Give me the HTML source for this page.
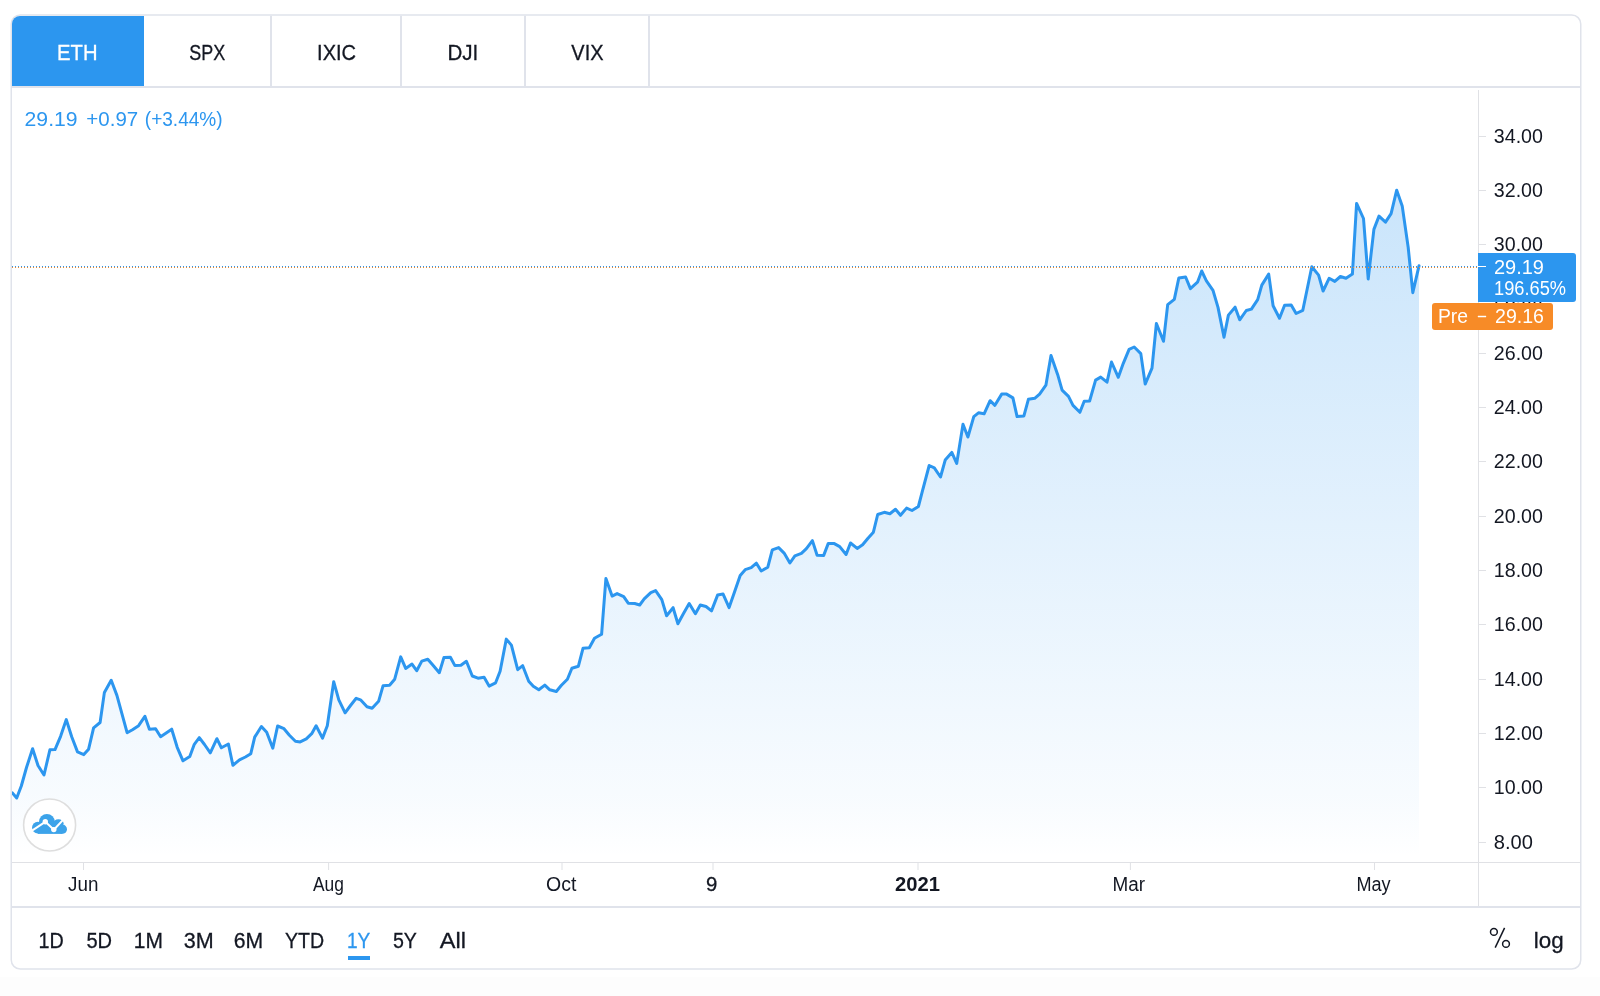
<!DOCTYPE html>
<html><head><meta charset="utf-8"><style>
html,body{margin:0;padding:0;background:#fff;}
svg{display:block;font-family:"Liberation Sans", sans-serif;will-change:transform;}
</style></head><body>
<svg width="1600" height="996" viewBox="0 0 1600 996">
<rect x="0" y="0" width="1600" height="996" fill="#ffffff"/>
<rect x="0" y="977" width="1600" height="19" fill="#fdfdfd"/>
<rect x="11.25" y="15.0" width="1569.5" height="954.0" rx="9" ry="9" fill="#ffffff" stroke="#e0e3eb" stroke-width="1.5"/>
<path d="M12 86 V24 A8 8 0 0 1 20 16 H144 V86 Z" fill="#2c96ef"/>
<rect x="270" y="15.67" width="2" height="70.33" fill="#e0e3eb"/>
<rect x="400" y="15.67" width="2" height="70.33" fill="#e0e3eb"/>
<rect x="524" y="15.67" width="2" height="70.33" fill="#e0e3eb"/>
<rect x="648" y="15.67" width="2" height="70.33" fill="#e0e3eb"/>
<rect x="12" y="86" width="1568.67" height="2" fill="#e0e3eb"/>
<defs><linearGradient id="g" x1="0" y1="88" x2="0" y2="857" gradientUnits="userSpaceOnUse"><stop offset="0" stop-color="#2c97f0" stop-opacity="0.29"/><stop offset="0.926" stop-color="#2c97f0" stop-opacity="0.035"/><stop offset="1" stop-color="#2c97f0" stop-opacity="0.0"/></linearGradient><clipPath id="cp"><rect x="12" y="88" width="1466" height="774"/></clipPath></defs>
<g clip-path="url(#cp)"><polygon points="12.2,792.8 16.7,798.0 21.3,786.0 26.5,767.5 32.6,748.8 38.0,765.5 44.0,775.0 49.9,749.8 55.0,749.6 60.6,736.3 66.3,719.6 71.7,736.8 77.5,751.9 83.8,754.6 88.6,749.2 93.6,727.8 100.1,722.5 104.4,692.4 111.2,680.3 116.9,695.4 127.1,732.7 132.5,729.7 138.6,725.7 144.9,716.3 149.4,729.2 155.6,728.7 160.6,736.7 166.2,732.9 171.7,729.2 177.2,747.3 183.0,760.8 189.8,756.5 194.3,744.3 199.3,737.7 204.5,744.5 210.3,752.8 216.9,738.7 221.4,747.8 228.4,744.0 232.9,765.3 239.5,759.8 245.4,757.0 250.8,753.7 254.7,737.1 261.4,726.5 266.7,732.3 272.8,748.2 277.6,726.0 284.0,728.7 289.4,735.3 295.4,741.3 300.2,741.9 306.3,738.9 311.7,733.7 316.1,725.7 322.5,738.1 327.3,725.7 333.7,681.7 338.8,699.8 345.1,712.8 350.5,705.5 356.2,698.3 360.5,699.8 367.0,706.8 372.1,708.3 378.6,701.3 383.1,685.7 389.6,685.2 394.7,679.2 400.7,656.9 405.7,668.4 412.0,664.1 416.7,670.7 421.8,661.1 427.8,659.3 432.8,665.1 439.3,672.7 443.9,657.6 450.4,657.3 454.9,665.6 460.9,665.3 466.4,661.3 472.3,676.0 478.0,678.2 484.1,677.2 489.1,686.1 495.6,682.8 500.1,671.2 506.3,639.1 511.4,645.1 517.7,669.7 522.7,665.7 528.7,681.2 533.3,686.3 538.8,689.8 544.8,685.1 549.8,689.8 556.3,691.5 561.4,685.3 567.4,679.2 571.9,668.2 578.4,666.2 583.0,648.3 589.3,647.8 594.5,638.3 601.6,634.3 605.9,578.6 612.1,596.1 617.1,593.6 623.7,596.6 628.2,603.2 634.7,603.5 639.7,605.0 644.2,598.9 650.8,592.6 655.6,590.6 661.8,599.6 666.6,615.7 673.1,607.7 677.9,623.7 683.5,613.6 689.2,603.5 695.4,613.7 700.3,605.0 706.0,606.5 711.5,610.9 717.6,595.1 723.1,594.1 729.1,607.6 734.6,591.8 740.2,575.4 745.2,569.7 751.2,567.7 756.4,563.2 761.2,571.0 767.8,567.2 772.3,549.9 778.6,547.6 784.1,553.1 789.9,563.0 794.9,555.8 801.4,553.3 806.4,548.6 812.4,540.6 817.1,555.2 823.7,555.4 828.3,543.4 834.3,543.6 839.7,546.6 846.1,554.5 850.5,543.0 857.2,548.4 862.6,544.8 868.0,538.2 873.4,532.2 877.7,514.5 884.3,512.3 889.9,513.7 895.5,509.3 900.5,515.3 906.6,508.1 912.0,510.5 918.4,506.5 922.2,491.8 929.2,465.5 934.3,467.9 940.5,477.0 945.2,460.1 951.8,452.4 956.7,463.4 963.0,424.3 967.9,437.0 973.8,416.6 978.5,412.8 984.1,413.8 990.1,400.7 994.9,405.3 1001.7,394.1 1006.6,394.1 1012.9,397.9 1017.1,416.6 1023.9,415.9 1028.4,399.3 1034.7,398.3 1039.6,394.1 1045.9,385.2 1051.0,355.4 1057.7,374.7 1062.1,390.1 1068.5,396.4 1073.0,405.4 1079.9,412.3 1084.2,401.2 1089.6,401.0 1095.6,380.1 1100.7,377.1 1107.0,382.2 1111.5,362.0 1118.3,377.3 1123.3,363.3 1129.1,349.4 1134.2,347.0 1140.8,353.6 1145.2,384.1 1152.0,368.1 1156.4,323.5 1163.5,341.3 1167.7,304.6 1174.3,299.4 1178.8,278.1 1185.6,277.0 1190.4,288.6 1197.5,282.2 1201.7,271.0 1206.4,280.9 1213.0,290.3 1218.0,307.4 1224.0,337.2 1228.4,315.1 1235.1,307.2 1239.7,319.8 1246.3,310.5 1251.4,309.1 1257.7,299.7 1261.8,285.1 1268.7,274.1 1273.1,305.7 1279.5,318.3 1284.6,305.3 1291.2,305.0 1296.1,313.5 1302.8,310.3 1307.3,288.5 1311.8,266.7 1318.6,275.1 1323.1,291.0 1329.1,278.3 1334.8,281.4 1340.4,276.5 1346.0,278.3 1352.4,274.1 1356.6,203.4 1363.5,218.5 1368.2,279.0 1373.9,229.4 1379.0,216.1 1385.5,222.2 1391.1,213.7 1396.7,190.2 1402.2,205.9 1408.2,247.5 1412.8,292.7 1419.0,265.8 1419.0,857.0 12.0,857.0" fill="url(#g)"/>
<polyline points="12.2,792.8 16.7,798.0 21.3,786.0 26.5,767.5 32.6,748.8 38.0,765.5 44.0,775.0 49.9,749.8 55.0,749.6 60.6,736.3 66.3,719.6 71.7,736.8 77.5,751.9 83.8,754.6 88.6,749.2 93.6,727.8 100.1,722.5 104.4,692.4 111.2,680.3 116.9,695.4 127.1,732.7 132.5,729.7 138.6,725.7 144.9,716.3 149.4,729.2 155.6,728.7 160.6,736.7 166.2,732.9 171.7,729.2 177.2,747.3 183.0,760.8 189.8,756.5 194.3,744.3 199.3,737.7 204.5,744.5 210.3,752.8 216.9,738.7 221.4,747.8 228.4,744.0 232.9,765.3 239.5,759.8 245.4,757.0 250.8,753.7 254.7,737.1 261.4,726.5 266.7,732.3 272.8,748.2 277.6,726.0 284.0,728.7 289.4,735.3 295.4,741.3 300.2,741.9 306.3,738.9 311.7,733.7 316.1,725.7 322.5,738.1 327.3,725.7 333.7,681.7 338.8,699.8 345.1,712.8 350.5,705.5 356.2,698.3 360.5,699.8 367.0,706.8 372.1,708.3 378.6,701.3 383.1,685.7 389.6,685.2 394.7,679.2 400.7,656.9 405.7,668.4 412.0,664.1 416.7,670.7 421.8,661.1 427.8,659.3 432.8,665.1 439.3,672.7 443.9,657.6 450.4,657.3 454.9,665.6 460.9,665.3 466.4,661.3 472.3,676.0 478.0,678.2 484.1,677.2 489.1,686.1 495.6,682.8 500.1,671.2 506.3,639.1 511.4,645.1 517.7,669.7 522.7,665.7 528.7,681.2 533.3,686.3 538.8,689.8 544.8,685.1 549.8,689.8 556.3,691.5 561.4,685.3 567.4,679.2 571.9,668.2 578.4,666.2 583.0,648.3 589.3,647.8 594.5,638.3 601.6,634.3 605.9,578.6 612.1,596.1 617.1,593.6 623.7,596.6 628.2,603.2 634.7,603.5 639.7,605.0 644.2,598.9 650.8,592.6 655.6,590.6 661.8,599.6 666.6,615.7 673.1,607.7 677.9,623.7 683.5,613.6 689.2,603.5 695.4,613.7 700.3,605.0 706.0,606.5 711.5,610.9 717.6,595.1 723.1,594.1 729.1,607.6 734.6,591.8 740.2,575.4 745.2,569.7 751.2,567.7 756.4,563.2 761.2,571.0 767.8,567.2 772.3,549.9 778.6,547.6 784.1,553.1 789.9,563.0 794.9,555.8 801.4,553.3 806.4,548.6 812.4,540.6 817.1,555.2 823.7,555.4 828.3,543.4 834.3,543.6 839.7,546.6 846.1,554.5 850.5,543.0 857.2,548.4 862.6,544.8 868.0,538.2 873.4,532.2 877.7,514.5 884.3,512.3 889.9,513.7 895.5,509.3 900.5,515.3 906.6,508.1 912.0,510.5 918.4,506.5 922.2,491.8 929.2,465.5 934.3,467.9 940.5,477.0 945.2,460.1 951.8,452.4 956.7,463.4 963.0,424.3 967.9,437.0 973.8,416.6 978.5,412.8 984.1,413.8 990.1,400.7 994.9,405.3 1001.7,394.1 1006.6,394.1 1012.9,397.9 1017.1,416.6 1023.9,415.9 1028.4,399.3 1034.7,398.3 1039.6,394.1 1045.9,385.2 1051.0,355.4 1057.7,374.7 1062.1,390.1 1068.5,396.4 1073.0,405.4 1079.9,412.3 1084.2,401.2 1089.6,401.0 1095.6,380.1 1100.7,377.1 1107.0,382.2 1111.5,362.0 1118.3,377.3 1123.3,363.3 1129.1,349.4 1134.2,347.0 1140.8,353.6 1145.2,384.1 1152.0,368.1 1156.4,323.5 1163.5,341.3 1167.7,304.6 1174.3,299.4 1178.8,278.1 1185.6,277.0 1190.4,288.6 1197.5,282.2 1201.7,271.0 1206.4,280.9 1213.0,290.3 1218.0,307.4 1224.0,337.2 1228.4,315.1 1235.1,307.2 1239.7,319.8 1246.3,310.5 1251.4,309.1 1257.7,299.7 1261.8,285.1 1268.7,274.1 1273.1,305.7 1279.5,318.3 1284.6,305.3 1291.2,305.0 1296.1,313.5 1302.8,310.3 1307.3,288.5 1311.8,266.7 1318.6,275.1 1323.1,291.0 1329.1,278.3 1334.8,281.4 1340.4,276.5 1346.0,278.3 1352.4,274.1 1356.6,203.4 1363.5,218.5 1368.2,279.0 1373.9,229.4 1379.0,216.1 1385.5,222.2 1391.1,213.7 1396.7,190.2 1402.2,205.9 1408.2,247.5 1412.8,292.7 1419.0,265.8" fill="none" stroke="#2c96ef" stroke-width="3" stroke-linejoin="round" stroke-linecap="round"/></g>
<line x1="12" y1="266.5" x2="1478" y2="266.5" stroke="#2c96ef" stroke-width="1" stroke-dasharray="1 2"/>
<line x1="12" y1="267.5" x2="1478" y2="267.5" stroke="#f78b27" stroke-width="1" stroke-dasharray="1 2"/>
<rect x="1478" y="90" width="1" height="816" fill="#e0e1e5"/>
<rect x="12" y="862" width="1568.67" height="1" fill="#e0e1e5"/>
<rect x="12" y="906" width="1568.67" height="2" fill="#e0e3eb"/>
<rect x="83.0" y="863" width="1" height="7" fill="#e0e1e5"/>
<rect x="328.1" y="863" width="1" height="7" fill="#e0e1e5"/>
<rect x="561.5" y="863" width="1" height="7" fill="#e0e1e5"/>
<rect x="712.5" y="863" width="1" height="7" fill="#e0e1e5"/>
<rect x="917.5" y="863" width="1" height="7" fill="#e0e1e5"/>
<rect x="1129.9" y="863" width="1" height="7" fill="#e0e1e5"/>
<rect x="1374.0" y="863" width="1" height="7" fill="#e0e1e5"/>
<rect x="1479" y="136" width="7" height="1" fill="#e0e1e5"/>
<rect x="1479" y="190" width="7" height="1" fill="#e0e1e5"/>
<rect x="1479" y="244" width="7" height="1" fill="#e0e1e5"/>
<rect x="1479" y="298" width="7" height="1" fill="#e0e1e5"/>
<rect x="1479" y="353" width="7" height="1" fill="#e0e1e5"/>
<rect x="1479" y="407" width="7" height="1" fill="#e0e1e5"/>
<rect x="1479" y="461" width="7" height="1" fill="#e0e1e5"/>
<rect x="1479" y="516" width="7" height="1" fill="#e0e1e5"/>
<rect x="1479" y="570" width="7" height="1" fill="#e0e1e5"/>
<rect x="1479" y="624" width="7" height="1" fill="#e0e1e5"/>
<rect x="1479" y="679" width="7" height="1" fill="#e0e1e5"/>
<rect x="1479" y="733" width="7" height="1" fill="#e0e1e5"/>
<rect x="1479" y="787" width="7" height="1" fill="#e0e1e5"/>
<rect x="1479" y="842" width="7" height="1" fill="#e0e1e5"/>
<text x="57.08" y="60.1" font-size="22.0" fill="#ffffff" font-weight="400" stroke="#ffffff" stroke-width="0.3" textLength="40.44" lengthAdjust="spacingAndGlyphs">ETH</text>
<text x="189.32" y="60.1" font-size="22.0" fill="#131722" font-weight="400" stroke="#131722" stroke-width="0.3" textLength="35.96" lengthAdjust="spacingAndGlyphs">SPX</text>
<text x="317.07" y="60.1" font-size="22.0" fill="#131722" font-weight="400" stroke="#131722" stroke-width="0.3" textLength="39.04" lengthAdjust="spacingAndGlyphs">IXIC</text>
<text x="447.45" y="60.1" font-size="22.0" fill="#131722" font-weight="400" stroke="#131722" stroke-width="0.3" textLength="30.88" lengthAdjust="spacingAndGlyphs">DJI</text>
<text x="571.32" y="60.1" font-size="22.0" fill="#131722" font-weight="400" stroke="#131722" stroke-width="0.3" textLength="32.18" lengthAdjust="spacingAndGlyphs">VIX</text>
<text x="24.58" y="125.6" font-size="20.2" fill="#2c96ef" font-weight="400" textLength="53.05" lengthAdjust="spacingAndGlyphs">29.19</text>
<text x="86.38" y="125.6" font-size="20.2" fill="#2c96ef" font-weight="400" textLength="51.85" lengthAdjust="spacingAndGlyphs">+0.97</text>
<text x="144.79" y="125.6" font-size="20.2" fill="#2c96ef" font-weight="400" textLength="77.83" lengthAdjust="spacingAndGlyphs">(+3.44%)</text>
<text x="68.03" y="891" font-size="19.5" fill="#131722" font-weight="400" textLength="30.35" lengthAdjust="spacingAndGlyphs">Jun</text>
<text x="313.02" y="891" font-size="19.5" fill="#131722" font-weight="400" textLength="30.92" lengthAdjust="spacingAndGlyphs">Aug</text>
<text x="546.06" y="891" font-size="19.5" fill="#131722" font-weight="400" textLength="30.30" lengthAdjust="spacingAndGlyphs">Oct</text>
<text x="706.13" y="891" font-size="19.5" fill="#131722" font-weight="400" stroke="#131722" stroke-width="0.3" textLength="11.31" lengthAdjust="spacingAndGlyphs">9</text>
<text x="895.02" y="891" font-size="19.5" fill="#131722" font-weight="700" textLength="44.95" lengthAdjust="spacingAndGlyphs">2021</text>
<text x="1112.45" y="891" font-size="19.5" fill="#131722" font-weight="400" textLength="32.53" lengthAdjust="spacingAndGlyphs">Mar</text>
<text x="1356.43" y="891" font-size="19.5" fill="#131722" font-weight="400" textLength="34.15" lengthAdjust="spacingAndGlyphs">May</text>
<text x="38.48" y="948" font-size="22.4" fill="#131722" font-weight="400" stroke="#131722" stroke-width="0.3" textLength="25.24" lengthAdjust="spacingAndGlyphs">1D</text>
<text x="86.47" y="948" font-size="22.4" fill="#131722" font-weight="400" stroke="#131722" stroke-width="0.3" textLength="25.64" lengthAdjust="spacingAndGlyphs">5D</text>
<text x="133.82" y="948" font-size="22.4" fill="#131722" font-weight="400" stroke="#131722" stroke-width="0.3" textLength="29.14" lengthAdjust="spacingAndGlyphs">1M</text>
<text x="183.85" y="948" font-size="22.4" fill="#131722" font-weight="400" stroke="#131722" stroke-width="0.3" textLength="29.93" lengthAdjust="spacingAndGlyphs">3M</text>
<text x="233.67" y="948" font-size="22.4" fill="#131722" font-weight="400" stroke="#131722" stroke-width="0.3" textLength="29.45" lengthAdjust="spacingAndGlyphs">6M</text>
<text x="284.88" y="948" font-size="22.4" fill="#131722" font-weight="400" stroke="#131722" stroke-width="0.3" textLength="39.22" lengthAdjust="spacingAndGlyphs">YTD</text>
<text x="346.91" y="948" font-size="22.4" fill="#2c96ef" font-weight="400" stroke="#2c96ef" stroke-width="0.3" textLength="23.39" lengthAdjust="spacingAndGlyphs">1Y</text>
<text x="392.92" y="948" font-size="22.4" fill="#131722" font-weight="400" stroke="#131722" stroke-width="0.3" textLength="23.98" lengthAdjust="spacingAndGlyphs">5Y</text>
<text x="439.88" y="948" font-size="22.4" fill="#131722" font-weight="400" stroke="#131722" stroke-width="0.3" textLength="26.19" lengthAdjust="spacingAndGlyphs">All</text>
<text x="1533.87" y="948" font-size="22.4" fill="#131722" font-weight="400" stroke="#131722" stroke-width="0.3" textLength="29.87" lengthAdjust="spacingAndGlyphs">log</text>
<text x="1493.82" y="143.0" font-size="19.5" fill="#131722" font-weight="400" textLength="49.15" lengthAdjust="spacingAndGlyphs">34.00</text>
<text x="1493.82" y="197.0" font-size="19.5" fill="#131722" font-weight="400" textLength="49.15" lengthAdjust="spacingAndGlyphs">32.00</text>
<text x="1493.82" y="251.0" font-size="19.5" fill="#131722" font-weight="400" textLength="49.15" lengthAdjust="spacingAndGlyphs">30.00</text>
<text x="1493.73" y="305.0" font-size="19.5" fill="#131722" font-weight="400" textLength="49.25" lengthAdjust="spacingAndGlyphs">28.00</text>
<text x="1493.82" y="360.0" font-size="19.5" fill="#131722" font-weight="400" textLength="49.15" lengthAdjust="spacingAndGlyphs">26.00</text>
<text x="1493.82" y="414.0" font-size="19.5" fill="#131722" font-weight="400" textLength="49.15" lengthAdjust="spacingAndGlyphs">24.00</text>
<text x="1493.82" y="468.0" font-size="19.5" fill="#131722" font-weight="400" textLength="49.15" lengthAdjust="spacingAndGlyphs">22.00</text>
<text x="1493.82" y="523.0" font-size="19.5" fill="#131722" font-weight="400" textLength="49.15" lengthAdjust="spacingAndGlyphs">20.00</text>
<text x="1493.82" y="577.0" font-size="19.5" fill="#131722" font-weight="400" textLength="49.15" lengthAdjust="spacingAndGlyphs">18.00</text>
<text x="1493.82" y="631.0" font-size="19.5" fill="#131722" font-weight="400" textLength="49.15" lengthAdjust="spacingAndGlyphs">16.00</text>
<text x="1493.82" y="686.0" font-size="19.5" fill="#131722" font-weight="400" textLength="49.15" lengthAdjust="spacingAndGlyphs">14.00</text>
<text x="1493.82" y="740.0" font-size="19.5" fill="#131722" font-weight="400" textLength="49.15" lengthAdjust="spacingAndGlyphs">12.00</text>
<text x="1493.82" y="794.0" font-size="19.5" fill="#131722" font-weight="400" textLength="49.15" lengthAdjust="spacingAndGlyphs">10.00</text>
<text x="1493.82" y="849.0" font-size="19.5" fill="#131722" font-weight="400" textLength="39.15" lengthAdjust="spacingAndGlyphs">8.00</text>
<path d="M1478 253 H1573 A3 3 0 0 1 1576 256 V299 A3 3 0 0 1 1573 302 H1478 Z" fill="#2c96ef"/>
<rect x="1478" y="266" width="8" height="1" fill="#ffffff"/>
<rect x="1432" y="303" width="121" height="27" rx="3" fill="#f78b27"/>
<text x="1493.98" y="273.5" font-size="20.0" fill="#ffffff" font-weight="400" textLength="50.03" lengthAdjust="spacingAndGlyphs">29.19</text>
<text x="1494.00" y="295.2" font-size="19.5" fill="#ffffff" font-weight="400" textLength="71.99" lengthAdjust="spacingAndGlyphs">196.65%</text>
<text x="1437.95" y="323.2" font-size="19.5" fill="#ffffff" font-weight="400" textLength="30.06" lengthAdjust="spacingAndGlyphs">Pre</text>
<text x="1477.03" y="323.2" font-size="19.5" fill="#ffffff" font-weight="400" textLength="9.95" lengthAdjust="spacingAndGlyphs">−</text>
<text x="1495.03" y="323.2" font-size="19.5" fill="#ffffff" font-weight="400" textLength="48.95" lengthAdjust="spacingAndGlyphs">29.16</text>
<g fill="none" stroke="#131722" stroke-width="1.5"><circle cx="1493.9" cy="931.9" r="3.4"/><circle cx="1506.0" cy="943.9" r="3.4"/><line x1="1495.2" y1="947.6" x2="1504.6" y2="927.9"/></g>
<rect x="348" y="956" width="22" height="4" fill="#2c96ef"/>
<circle cx="49.6" cy="825.0" r="26.0" fill="#ffffff" stroke="#dedede" stroke-width="1.6"/>
<g fill="#3ca3ea"><circle cx="46.9" cy="821.9" r="7.9"/><circle cx="37.8" cy="827.6" r="5.8"/><ellipse cx="58.4" cy="823.3" rx="5.2" ry="4"/><circle cx="62.4" cy="829.2" r="4.6"/><rect x="37.8" y="824" width="24.6" height="9.9"/></g>
<polyline points="30.5,831.6 45.3,821.8 53.9,829.7 64.2,818.6" fill="none" stroke="#ffffff" stroke-width="2" stroke-linejoin="round"/>
<circle cx="45.3" cy="821.8" r="2.7" fill="#ffffff"/><circle cx="53.8" cy="829.6" r="2.7" fill="#ffffff"/>
</svg>
</body></html>
